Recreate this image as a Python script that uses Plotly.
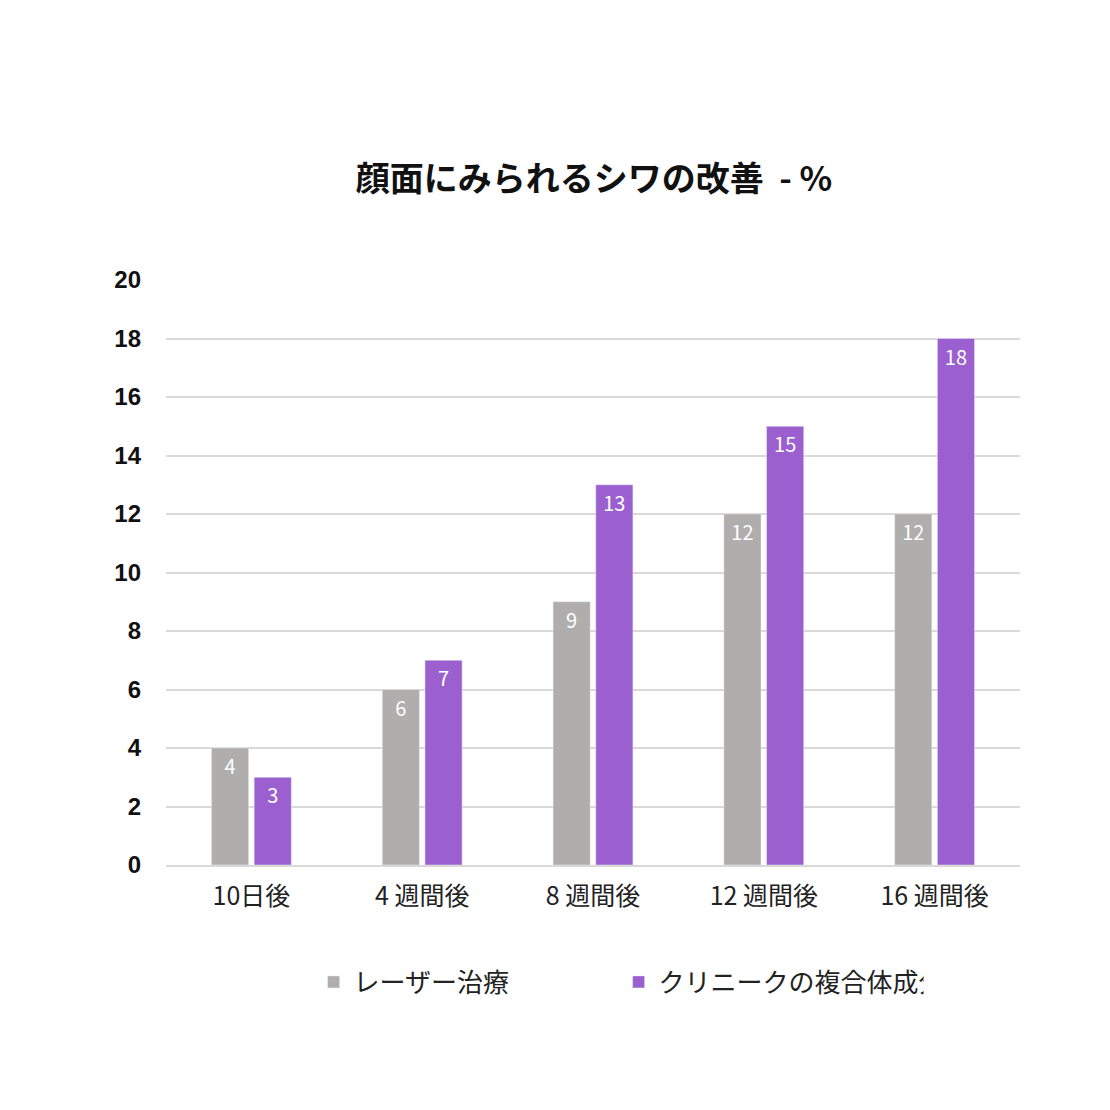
import plotly.graph_objects as go

categories = ["10日後", "4 週間後", "8 週間後", "12 週間後", "16 週間後"]
laser = [4, 6, 9, 12, 12]
clinique = [3, 7, 13, 15, 18]
series_names = ["レーザー治療", "クリニークの複合体成分"]
tick_vals = [0, 2, 4, 6, 8, 10, 12, 14, 16, 18, 20]

font = "Noto Sans CJK JP"
fig = go.Figure()
for name, vals, color in [(series_names[0], laser, "#b0adad"), (series_names[1], clinique, "#9b5fcf")]:
    fig.add_trace(go.Bar(x=categories, y=vals, name=name, marker_color=color,
                         text=vals, textposition="inside", insidetextanchor="end",
                         textfont=dict(color="white", size=20, family=font),
                         textangle=0))

fig.update_layout(
    width=1110, height=1110, paper_bgcolor="white", plot_bgcolor="white",
    margin=dict(l=158, r=98, t=272, b=253),
    title=dict(text="<b>顔面にみられるシワの改善  - %</b>", x=0.528, xanchor="center",
               y=0.846, yanchor="middle", font=dict(size=34, family=font, color="#111")),
    barmode="group", bargap=0.5, bargroupgap=0.13,
    font=dict(family=font, color="#111"),
    xaxis=dict(tickfont=dict(size=25, family=font, color="#222"), showline=True,
               linecolor="#d9d9d9", linewidth=2, ticks="", ticklabelstandoff=8),
    yaxis=dict(range=[0, 20], tickvals=tick_vals, gridcolor="#d9d9d9", gridwidth=2,
               tickfont=dict(size=24, family="Liberation Sans", color="#111", weight="bold"),
               ticklabelstandoff=24, zeroline=False),
    legend=dict(orientation="h", x=0.53, xanchor="center", y=-0.2, yanchor="middle",
                font=dict(size=26, family=font, color="#222"), itemwidth=30,
                entrywidth=260),
    uniformtext=dict(mode="show", minsize=20),
)
fig.write_html("out.html")
